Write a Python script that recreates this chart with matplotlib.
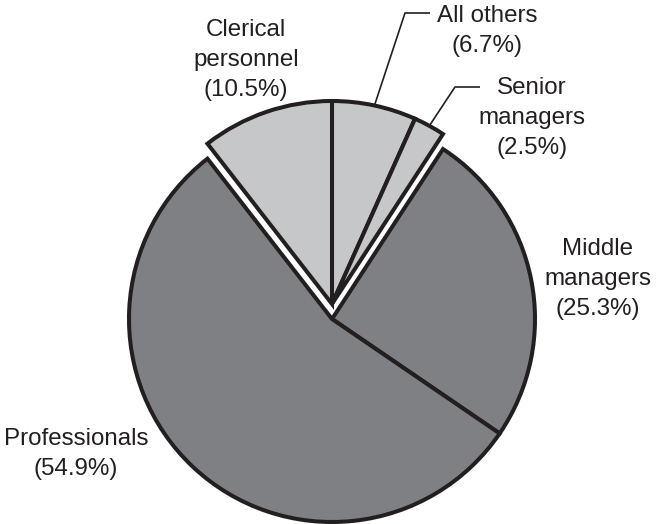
import numpy as np
import matplotlib.pyplot as plt

plt.rcParams['font.family'] = ['Liberation Sans', 'DejaVu Sans']

# data: clockwise from 12 o'clock
labels = ['All others', 'Senior\nmanagers', 'Middle\nmanagers', 'Professionals', 'Clerical\npersonnel']
shares = [6.7, 2.5, 25.3, 54.9, 10.5]
lifted = [True, True, False, False, True]   # light group pulled out upward

DARK = '#7f8084'
LIGHT = '#c6c7c9'
INK = '#231f20'

W, H = 659, 524


def px(x, y):
    # image pixel coords (y down) -> data coords (y up)
    return x, H - y


# label centres in image pixels
label_pos = [(487, 31), (532, 118), (598, 279), (76, 454), (246, 60)]
# leader lines: text end -> elbow, then on to the wedge edge
leader = {0: [(430, 13), (405, 13)], 1: [(480, 87), (455, 87)]}

fig = plt.figure(figsize=(W / 100, H / 100), dpi=100)
ax = fig.add_axes([0, 0, 1, 1])

cx, cy = px(332, 319)
r = 203
lift = 15

wedges, _ = ax.pie(shares, startangle=90, counterclock=False, center=(cx, cy), radius=r,
                   colors=[LIGHT if l else DARK for l in lifted],
                   wedgeprops=dict(edgecolor=INK, linewidth=2.9, joinstyle='miter'))
for w, l in zip(wedges, lifted):
    if l:
        w.set_center((cx, cy + lift))

for i, (lab, s) in enumerate(zip(labels, shares)):
    x, y = px(*label_pos[i])
    ax.text(x, y, f'{lab}\n({s}%)', ha='center', va='center', fontsize=17.4,
            color=INK, linespacing=1.48)

for i, pts in leader.items():
    w = wedges[i]
    mid = np.deg2rad((w.theta1 + w.theta2) / 2)
    wx, wy = w.center
    end = (wx + r * np.cos(mid), wy + r * np.sin(mid))
    xs = [p[0] for p in pts] + [end[0]]
    ys = [H - p[1] for p in pts] + [end[1]]
    ax.plot(xs, ys, color=INK, linewidth=1.2, solid_capstyle='butt')

ax.set_xlim(0, W)
ax.set_ylim(0, H)
ax.set_aspect('equal')
ax.axis('off')

fig.savefig('out.png', dpi=100)
